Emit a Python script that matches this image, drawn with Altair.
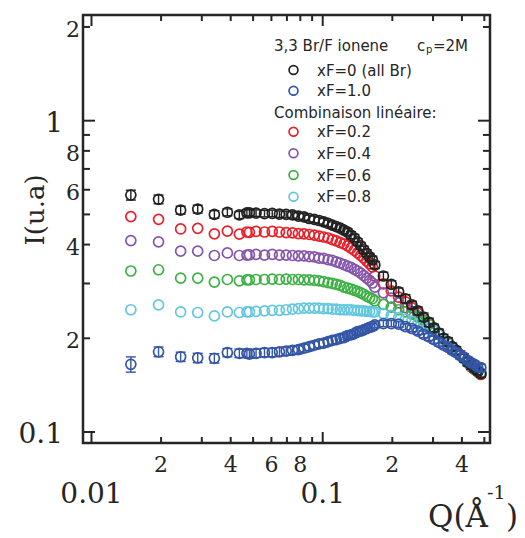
import altair as alt
import pandas as pd

# ---------------- data ----------------
Q = [0.0148, 0.0195, 0.0243, 0.0288, 0.034, 0.0387, 0.0436, 0.0482,
     0.047, 0.0515, 0.056, 0.0605, 0.065, 0.0695, 0.074, 0.0785, 0.083, 0.0875,
     0.092, 0.0965, 0.101, 0.1055, 0.11, 0.1145, 0.119, 0.1235, 0.128, 0.1325,
     0.137, 0.1415, 0.146, 0.1505, 0.155, 0.1595, 0.164,
     0.168, 0.183, 0.198, 0.213, 0.228, 0.243, 0.258, 0.273, 0.288, 0.303, 0.318,
     0.333, 0.348, 0.363, 0.378, 0.393, 0.408, 0.423, 0.438, 0.453, 0.468, 0.483]

I_xF0 = [0.577, 0.559, 0.516, 0.520, 0.500, 0.508, 0.498, 0.506,
         0.506, 0.505, 0.503, 0.504, 0.501, 0.500, 0.498, 0.494, 0.491, 0.485,
         0.482, 0.478, 0.473, 0.468, 0.462, 0.457, 0.452, 0.445, 0.439, 0.429,
         0.420, 0.408, 0.396, 0.385, 0.375, 0.365, 0.357,
         0.344, 0.317, 0.298, 0.282, 0.268, 0.256, 0.245, 0.234, 0.225, 0.216, 0.208,
         0.200, 0.195, 0.188, 0.183, 0.177, 0.173, 0.168, 0.164, 0.160, 0.157, 0.154]
err_xF0 = [0.021, 0.018, 0.015, 0.015, 0.014, 0.013, 0.013, 0.012,
           0.012, 0.012, 0.012, 0.012, 0.012, 0.012, 0.012, 0.012, 0.012, 0.012,
           0.012, 0.012, 0.012, 0.011, 0.011, 0.011, 0.011, 0.011, 0.011, 0.011,
           0.011, 0.010, 0.010, 0.010, 0.010, 0.010, 0.010,
           0.009, 0.009, 0.008, 0.008, 0.008, 0.007, 0.007, 0.007, 0.007, 0.006, 0.006,
           0.006, 0.006, 0.005, 0.005, 0.005, 0.005, 0.005, 0.005, 0.004, 0.004, 0.004]

I_xF1 = [0.165, 0.181, 0.1745, 0.173, 0.1725, 0.180, 0.179, 0.178,
         0.179, 0.179, 0.180, 0.180, 0.181, 0.182, 0.183, 0.184, 0.186, 0.188,
         0.190, 0.192, 0.193, 0.195, 0.197, 0.198, 0.200, 0.201, 0.204, 0.205,
         0.207, 0.210, 0.211, 0.213, 0.215, 0.217, 0.218,
         0.221, 0.223, 0.223, 0.222, 0.218, 0.215, 0.211, 0.206, 0.202, 0.198, 0.194,
         0.190, 0.187, 0.183, 0.180, 0.177, 0.174, 0.170, 0.167, 0.165, 0.162, 0.161]
err_xF1 = [0.0093, 0.0065, 0.0060, 0.0060, 0.0060, 0.0055, 0.0055, 0.0055,
           0.0055, 0.0055, 0.0055, 0.0055, 0.0055, 0.0055, 0.0055, 0.0055, 0.0055, 0.0055,
           0.0055, 0.0055, 0.0055, 0.0055, 0.0055, 0.0055, 0.0055, 0.0055, 0.0055, 0.0055,
           0.0055, 0.0055, 0.0055, 0.0055, 0.0055, 0.0055, 0.0055,
           0.0050, 0.0050, 0.0050, 0.0050, 0.0050, 0.0050, 0.0050, 0.0050, 0.0050, 0.0050, 0.0050,
           0.0045, 0.0045, 0.0045, 0.0045, 0.0045, 0.0045, 0.0045, 0.0040, 0.0040, 0.0040, 0.0040]

I_xF02 = [0.492, 0.482, 0.449, 0.451, 0.433, 0.442, 0.432, 0.438,
          0.439, 0.441, 0.439, 0.441, 0.439, 0.437, 0.436, 0.434, 0.433, 0.431,
          0.429, 0.426, 0.423, 0.420, 0.415, 0.411, 0.406, 0.402, 0.396, 0.390,
          0.383, 0.376, 0.369, 0.362, 0.354, 0.347, 0.339,
          0.317, 0.299, 0.284, 0.271, 0.262, 0.251, 0.241, 0.232, 0.222, 0.214, 0.206,
          0.199, 0.193, 0.187, 0.181, 0.176, 0.172, 0.167, 0.162, 0.159, 0.156, 0.153]

I_xF04 = [0.412, 0.408, 0.381, 0.381, 0.369, 0.376, 0.369, 0.371,
          0.370, 0.372, 0.370, 0.372, 0.370, 0.370, 0.369, 0.368, 0.368, 0.366,
          0.365, 0.362, 0.361, 0.358, 0.356, 0.352, 0.349, 0.345, 0.341, 0.338,
          0.333, 0.329, 0.324, 0.318, 0.312, 0.307, 0.301,
          0.292, 0.280, 0.269, 0.260, 0.251, 0.243, 0.236, 0.229, 0.222, 0.214, 0.206,
          0.199, 0.193, 0.187, 0.182, 0.177, 0.172, 0.168, 0.164, 0.160, 0.157, 0.155]

I_xF06 = [0.329, 0.332, 0.312, 0.312, 0.303, 0.309, 0.306, 0.308,
          0.308, 0.309, 0.309, 0.310, 0.309, 0.310, 0.309, 0.309, 0.308, 0.308,
          0.307, 0.306, 0.304, 0.302, 0.300, 0.298, 0.296, 0.292, 0.290, 0.288,
          0.285, 0.283, 0.280, 0.277, 0.273, 0.270, 0.268,
          0.264, 0.257, 0.252, 0.247, 0.243, 0.239, 0.234, 0.228, 0.222, 0.214, 0.206,
          0.198, 0.193, 0.186, 0.181, 0.176, 0.172, 0.167, 0.163, 0.159, 0.156, 0.154]

I_xF08 = [0.247, 0.256, 0.243, 0.242, 0.236, 0.243, 0.242, 0.243,
          0.243, 0.244, 0.245, 0.246, 0.246, 0.247, 0.248, 0.249, 0.250, 0.250,
          0.250, 0.250, 0.249, 0.249, 0.248, 0.248, 0.247, 0.247, 0.247, 0.247,
          0.246, 0.246, 0.245, 0.245, 0.244, 0.244, 0.243,
          0.243, 0.240, 0.237, 0.233, 0.230, 0.227, 0.223, 0.220, 0.216, 0.211, 0.205,
          0.198, 0.193, 0.186, 0.181, 0.176, 0.172, 0.167, 0.163, 0.160, 0.157, 0.155]

series_labels = ["xF=0 (all Br)", "xF=1.0", "xF=0.2", "xF=0.4", "xF=0.6", "xF=0.8"]
series_colors = ["#222222", "#3556a6", "#e8202a", "#8455ad", "#3cb044", "#62c7df"]

x_major = [0.01, 0.1]
x_minor = [0.02, 0.03, 0.04, 0.05, 0.06, 0.07, 0.08, 0.09, 0.2, 0.3, 0.4, 0.5]
y_major = [0.1, 1.0]
y_minor = [0.2, 0.3, 0.4, 0.5, 0.6, 0.7, 0.8, 0.9, 2.0]

x_small_vals = [0.02, 0.04, 0.06, 0.08, 0.2, 0.4]
x_small_text = ["2", "4", "6", "8", "2", "4"]
x_big_vals = [0.01, 0.1]
x_big_text = ["0.01", "0.1"]
y_small_vals = [2.0, 0.8, 0.6, 0.4, 0.2]
y_small_text = ["2", "8", "6", "4", "2"]
y_big_vals = [1.0, 0.1]
y_big_text = ["1", "0.1"]

# ---------------- layout / style ----------------
W, H = 407, 428
FRAME = "#262626"
SERIF = "DejaVu Serif"
SANS = "DejaVu Sans"
xs = alt.Scale(type="log", domain=[0.00919, 0.529], nice=False)
ys = alt.Scale(type="log", domain=[0.0922, 2.185], nice=False)


def X(f):
    return alt.X(f, type="quantitative", scale=xs, axis=None)


def Y(f):
    return alt.Y(f, type="quantitative", scale=ys, axis=None)


layers = []

# ticks (inward, on all four sides)
dxM = pd.DataFrame({"v": x_major})
dxm = pd.DataFrame({"v": x_minor})
dyM = pd.DataFrame({"v": y_major})
dym = pd.DataFrame({"v": y_minor})
tk = dict(color=FRAME, strokeWidth=2)
for d, L in [(dxM, 11), (dxm, 6)]:
    layers.append(alt.Chart(d).mark_rule(**tk).encode(x=X("v"), y=alt.value(H), y2=alt.value(H - L)))
    layers.append(alt.Chart(d).mark_rule(**tk).encode(x=X("v"), y=alt.value(0), y2=alt.value(L)))
for d, L in [(dyM, 12), (dym, 7)]:
    layers.append(alt.Chart(d).mark_rule(**tk).encode(y=Y("v"), x=alt.value(0), x2=alt.value(L)))
    layers.append(alt.Chart(d).mark_rule(**tk).encode(y=Y("v"), x=alt.value(W), x2=alt.value(W - L)))

# tick labels
layers.append(alt.Chart(pd.DataFrame({"v": x_small_vals, "t": x_small_text})).mark_text(
    font=SERIF, fontSize=22, color=FRAME, align="center", baseline="alphabetic").encode(
    x=X("v"), y=alt.value(H + 29), text="t:N"))
layers.append(alt.Chart(pd.DataFrame({"v": x_big_vals, "t": x_big_text})).mark_text(
    font=SERIF, fontSize=28, color=FRAME, align="center", baseline="alphabetic").encode(
    x=X("v"), y=alt.value(H + 60), text="t:N"))
layers.append(alt.Chart(pd.DataFrame({"v": y_small_vals, "t": y_small_text})).mark_text(
    font=SERIF, fontSize=22, color=FRAME, align="right", baseline="middle", dy=3).encode(
    y=Y("v"), x=alt.value(-3), text="t:N"))
layers.append(alt.Chart(pd.DataFrame({"v": y_big_vals, "t": y_big_text})).mark_text(
    font=SERIF, fontSize=28, color=FRAME, align="right", baseline="middle", dy=3).encode(
    y=Y("v"), x=alt.value(-20), text="t:N"))

# axis titles
one = pd.DataFrame({"t": ["I(u.a)"]})
layers.append(alt.Chart(one).mark_text(font=SERIF, fontSize=26, color=FRAME, angle=270,
                                       align="center", baseline="middle").encode(
    x=alt.value(-47), y=alt.value(195), text="t:N"))
layers.append(alt.Chart(pd.DataFrame({"t": ["Q(Å"]})).mark_text(
    font=SERIF, fontSize=31, color=FRAME, align="left", baseline="alphabetic").encode(
    x=alt.value(345), y=alt.value(512), text="t:N"))
layers.append(alt.Chart(pd.DataFrame({"t": ["-1"]})).mark_text(
    font=SERIF, fontSize=19, color=FRAME, align="left", baseline="alphabetic").encode(
    x=alt.value(404), y=alt.value(484), text="t:N"))
layers.append(alt.Chart(pd.DataFrame({"t": [")"]})).mark_text(
    font=SERIF, fontSize=31, color=FRAME, align="left", baseline="alphabetic").encode(
    x=alt.value(423), y=alt.value(512), text="t:N"))

# data
pt = dict(shape="circle", filled=False, size=100, strokeWidth=1.7, opacity=1)


def points(vals, color):
    d = pd.DataFrame({"Q": Q, "I": vals})
    return alt.Chart(d).mark_point(color=color, **pt).encode(x=X("Q"), y=Y("I"))


def errbars(vals, errs, color):
    d = pd.DataFrame({"Q": Q, "I": vals, "e": errs})
    d["lo"] = d["I"] - d["e"]
    d["hi"] = d["I"] + d["e"]
    r = alt.Chart(d).mark_rule(color=color, strokeWidth=1.4).encode(
        x=X("Q"), y=Y("lo"), y2="hi")
    c1 = alt.Chart(d).mark_tick(color=color, orient="horizontal", size=10, thickness=1.4,
                                opacity=1).encode(x=X("Q"), y=Y("lo"))
    c2 = alt.Chart(d).mark_tick(color=color, orient="horizontal", size=10, thickness=1.4,
                                opacity=1).encode(x=X("Q"), y=Y("hi"))
    return [r, c1, c2]


layers.append(points(I_xF02, series_colors[2]))
layers.append(points(I_xF04, series_colors[3]))
layers.append(points(I_xF06, series_colors[4]))
layers.append(points(I_xF08, series_colors[5]))
layers += errbars(I_xF0, err_xF0, series_colors[0])
layers.append(points(I_xF0, series_colors[0]))
layers += errbars(I_xF1, err_xF1, series_colors[1])
layers.append(points(I_xF1, series_colors[1]))

# legend (drawn by hand, as in the original figure)
leg_title = pd.DataFrame({"t": ["3,3 Br/F ionene"]})
layers.append(alt.Chart(leg_title).mark_text(font=SANS, fontSize=15, color=FRAME, align="left",
                                             baseline="alphabetic").encode(
    x=alt.value(191), y=alt.value(35.5), text="t:N"))
for txt, xp, yp, fs in [("c", 334, 35.5, 15), ("p", 343, 37.5, 10), ("=2M", 350, 35.5, 15)]:
    layers.append(alt.Chart(pd.DataFrame({"t": [txt]})).mark_text(
        font=SANS, fontSize=fs, color=FRAME, align="left", baseline="alphabetic").encode(
        x=alt.value(xp), y=alt.value(yp), text="t:N"))
layers.append(alt.Chart(pd.DataFrame({"t": ["Combinaison linéaire:"]})).mark_text(
    font=SANS, fontSize=15, color=FRAME, align="left", baseline="alphabetic").encode(
    x=alt.value(191), y=alt.value(103), text="t:N"))
row_y = [55, 75.7, 116.7, 138.3, 160, 181.7]
for lab, col, yy in zip(series_labels, series_colors, row_y):
    dd = pd.DataFrame({"t": [lab]})
    layers.append(alt.Chart(dd).mark_point(shape="circle", filled=False, size=78,
                                           strokeWidth=1.7, opacity=1, color=col).encode(
        x=alt.value(210.5), y=alt.value(yy)))
    layers.append(alt.Chart(dd).mark_text(font=SANS, fontSize=15, color=FRAME, align="left",
                                          baseline="alphabetic").encode(
        x=alt.value(234), y=alt.value(yy + 5.5), text="t:N"))

chart = alt.layer(*layers).properties(
    width=W, height=H,
    padding={"left": 75, "top": 7, "right": 27, "bottom": 92},
    autosize=alt.AutoSizeParams(type="none"),
).configure_view(stroke=FRAME, strokeWidth=2.5)

chart.save("out.html", embed_options={"renderer": "svg", "actions": False})
